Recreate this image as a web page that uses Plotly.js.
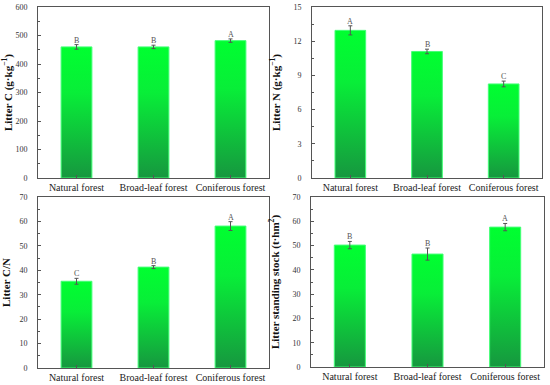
<!DOCTYPE html>
<html>
<head>
<meta charset="utf-8">
<script src="https://cdn.plot.ly/plotly-3.0.1.min.js"></script>
<style>html,body{margin:0;padding:0;background:#fff}#chart{width:550px;height:385px}</style>
</head>
<body>
<div id="chart"></div>
<script>
const categories = ["Natural forest", "Broad-leaf forest", "Coniferous forest"];

const litterC = [460, 460, 482];
const litterCErr = [8, 6, 6];
const litterCLetters = ["B", "B", "A"];

const litterN = [12.95, 11.1, 8.25];
const litterNErr = [0.4, 0.2, 0.25];
const litterNLetters = ["A", "B", "C"];

const litterCN = [35.5, 41.3, 58.1];
const litterCNErr = [1.2, 0.6, 1.8];
const litterCNLetters = ["C", "B", "A"];

const stock = [50.2, 46.5, 57.6];
const stockErr = [1.5, 2.5, 1.5];
const stockLetters = ["B", "B", "A"];

const panels = [
  {vals: litterC, err: litterCErr, letters: litterCLetters, title: "Litter C (g·kg<sup>−1</sup>)", range: [0, 600], dtick: 100},
  {vals: litterN, err: litterNErr, letters: litterNLetters, title: "Litter N (g·kg<sup>−1</sup>)", range: [0, 15], dtick: 3},
  {vals: litterCN, err: litterCNErr, letters: litterCNLetters, title: "Litter C/N", range: [0, 70], dtick: 10},
  {vals: stock, err: stockErr, letters: stockLetters, title: "Litter standing stock (t·hm<sup>2</sup>)", range: [0, 70], dtick: 10}
];

const W = 550, H = 385;
const boxes = [
  [38, 269, 7, 178],
  [312, 542, 7, 178],
  [38, 269, 197, 368],
  [311, 544, 197, 367]
];

const serif = "'Liberation Serif', 'Times New Roman', Times, serif";
const data = [];
const layout = {
  width: W, height: H,
  margin: {l: 0, r: 0, t: 0, b: 0},
  paper_bgcolor: "#fff", plot_bgcolor: "#fff",
  showlegend: false,
  bargap: 0.6,
  annotations: []
};

panels.forEach((p, i) => {
  const n = i + 1;
  const xa = "x" + (n === 1 ? "" : n), ya = "y" + (n === 1 ? "" : n);
  const xk = "xaxis" + (n === 1 ? "" : n), yk = "yaxis" + (n === 1 ? "" : n);
  const b = boxes[i];
  data.push({
    type: "bar", x: categories, y: p.vals, xaxis: xa, yaxis: ya,
    marker: {color: "#1db845", line: {color: "#44ff77", width: 1}},
    error_y: {type: "data", array: p.err, visible: true, color: "#555", thickness: 1, width: 2},
    hoverinfo: "none"
  });
  layout[xk] = {
    domain: [b[0] / W, b[1] / W],
    anchor: ya,
    type: "category",
    showline: true, mirror: true, linecolor: "#555", linewidth: 1,
    ticks: "inside", ticklen: 3, tickcolor: "#555",
    tickfont: {family: serif, size: 10, color: "#222"},
    fixedrange: true, automargin: false
  };
  layout[yk] = {
    domain: [1 - b[3] / H, 1 - b[2] / H],
    anchor: xa,
    range: p.range, dtick: p.dtick,
    showline: true, mirror: true, linecolor: "#555", linewidth: 1,
    showgrid: false, zeroline: false,
    ticks: "inside", ticklen: 3, tickcolor: "#555",
    minor: {dtick: p.dtick / 2, ticks: "inside", ticklen: 2, tickcolor: "#555", showgrid: false},
    tickfont: {family: serif, size: 8, color: "#333"},
    ticklabelstandoff: 8,
    title: {text: p.title, font: {family: serif, size: 11, color: "#111", weight: "bold"}, standoff: 10},
    fixedrange: true, automargin: false
  };
  p.vals.forEach((v, j) => {
    layout.annotations.push({
      xref: xa, yref: ya, x: categories[j], y: v + p.err[j],
      text: p.letters[j], showarrow: false, yanchor: "bottom", yshift: -2,
      font: {family: serif, size: 8, color: "#555"}
    });
  });
});

Plotly.newPlot("chart", data, layout, {displayModeBar: false, staticPlot: true}).then(gd => {
  const svg = gd.querySelector("svg.main-svg");
  const ns = "http://www.w3.org/2000/svg";
  let defs = svg.querySelector("defs");
  if (!defs) { defs = document.createElementNS(ns, "defs"); svg.insertBefore(defs, svg.firstChild); }
  const lg = document.createElementNS(ns, "linearGradient");
  lg.setAttribute("id", "barGrad");
  lg.setAttribute("x1", "0"); lg.setAttribute("y1", "0");
  lg.setAttribute("x2", "0"); lg.setAttribute("y2", "1");
  [["0", "#00ff30"], ["0.35", "#08ee38"], ["1", "#16973f"]].forEach(([o, c]) => {
    const s = document.createElementNS(ns, "stop");
    s.setAttribute("offset", o); s.setAttribute("stop-color", c);
    lg.appendChild(s);
  });
  defs.appendChild(lg);
  gd.querySelectorAll(".bars .point path").forEach(pth => { pth.style.fill = "url(#barGrad)"; });
});
</script>
</body>
</html>
